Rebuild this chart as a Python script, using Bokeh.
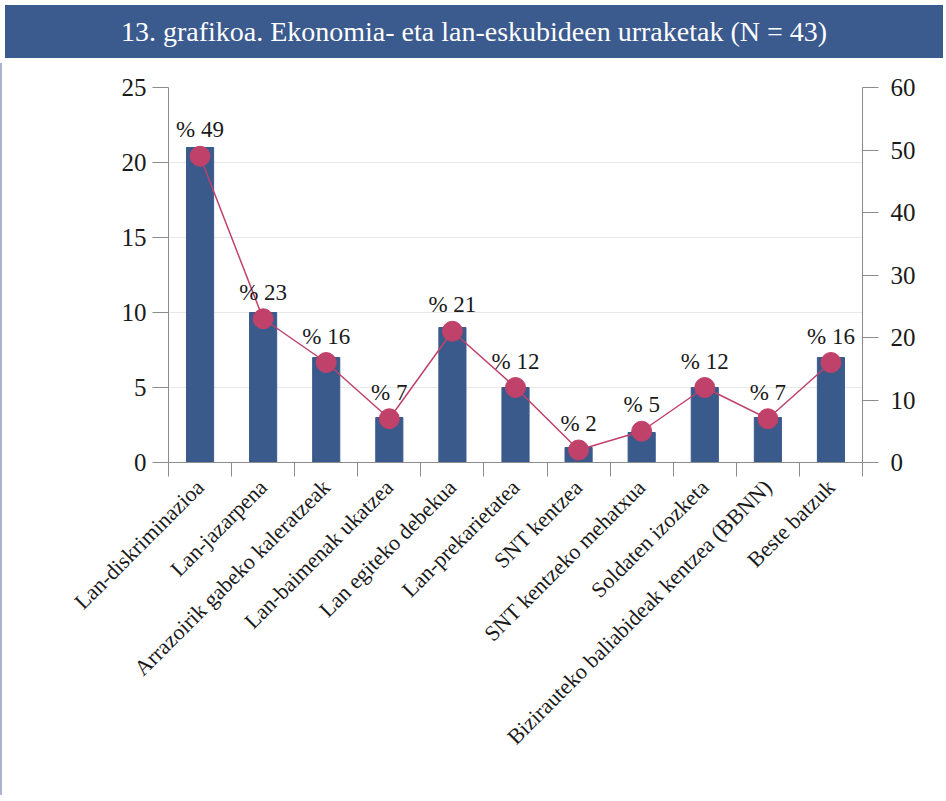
import math
from bokeh.plotting import figure
from bokeh.models import Range1d, LinearAxis, FixedTicker, Div, ColumnDataSource
from bokeh.layouts import column
from bokeh.core.properties import value
from bokeh.embed import file_html
from bokeh.resources import INLINE

title_text = "13. grafikoa. Ekonomia- eta lan-eskubideen urraketak (N = 43)"
categories = [
    "Lan-diskriminazioa",
    "Lan-jazarpena",
    "Arrazoirik gabeko kaleratzeak",
    "Lan-baimenak ukatzea",
    "Lan egiteko debekua",
    "Lan-prekarietatea",
    "SNT kentzea",
    "SNT kentzeko mehatxua",
    "Soldaten izozketa",
    "Bizirauteko baliabideak kentzea (BBNN)",
    "Beste batzuk",
]
counts = [21, 10, 7, 3, 9, 5, 1, 2, 5, 3, 7]
percents = [49, 23, 16, 7, 21, 12, 2, 5, 12, 7, 16]
left_ticks = [0, 5, 10, 15, 20, 25]
right_ticks = [0, 10, 20, 30, 40, 50, 60]

FONT = "Liberation Serif"
BAR = "#3a5a8c"
LINE = "#c0416a"
AXIS = "#8c8c8c"
TXT = "#1a1a1a"

n = len(categories)
xs = list(range(1, n + 1))
src = ColumnDataSource(dict(
    x=xs, count=counts, pct=percents,
    label=["% " + str(v) for v in percents],
))

p = figure(
    width=938, height=732,
    x_range=Range1d(0.5, n + 0.5), y_range=Range1d(left_ticks[0], left_ticks[-1]),
    output_backend="svg", toolbar_location=None,
    min_border_left=166, min_border_right=78, min_border_top=24, min_border_bottom=333,
)
p.outline_line_color = None
p.background_fill_color = "white"
p.border_fill_color = "white"
p.styles = {"border-left": "2px solid #a9b3d0"}

p.extra_y_ranges = {"pct": Range1d(right_ticks[0], right_ticks[-1])}

# bars, line, markers, labels
p.vbar(x="x", top="count", width=0.43, source=src, fill_color=BAR, line_color=BAR)
p.line(x="x", y="pct", source=src, y_range_name="pct", line_color=LINE, line_width=1.5)
p.scatter(x="x", y="pct", source=src, y_range_name="pct", size=20,
          fill_color=LINE, line_color=LINE)
p.text(x="x", y="pct", text="label", source=src, y_range_name="pct",
       text_align="center", text_baseline="bottom", y_offset=-14,
       text_font=value(FONT), text_font_size="23px", text_color=TXT)

# grid
p.xgrid.visible = False
p.ygrid.ticker = FixedTicker(ticks=left_ticks)
p.ygrid.grid_line_color = "#e8e8e8"
p.ygrid.grid_line_width = 1

# left axis
ya = p.yaxis[0]
ya.ticker = FixedTicker(ticks=left_ticks)
ya.axis_line_color = AXIS
ya.major_tick_line_color = AXIS
ya.major_tick_in = 0
ya.major_tick_out = 16
ya.minor_tick_line_color = None
ya.major_label_standoff = 6
ya.major_label_text_font = FONT
ya.major_label_text_font_size = "25px"
ya.major_label_text_color = TXT

# right axis
ra = LinearAxis(y_range_name="pct", ticker=FixedTicker(ticks=right_ticks))
ra.axis_line_color = AXIS
ra.major_tick_line_color = AXIS
ra.major_tick_in = 0
ra.major_tick_out = 16
ra.minor_tick_line_color = None
ra.major_label_standoff = 12
ra.major_label_text_font = FONT
ra.major_label_text_font_size = "25px"
ra.major_label_text_color = TXT
p.add_layout(ra, "right")

# x axis: labels at centres, tick marks at category boundaries
xa = p.xaxis[0]
xa.ticker = FixedTicker(ticks=xs, minor_ticks=[x - 0.5 for x in xs] + [n + 0.5])
xa.major_label_overrides = {x: c for x, c in zip(xs, categories)}
xa.major_tick_line_color = None
xa.minor_tick_line_color = AXIS
xa.minor_tick_in = 0
xa.minor_tick_out = 14
xa.axis_line_color = AXIS
xa.major_label_orientation = math.pi / 4
xa.major_label_standoff = 7
xa.major_label_text_font = FONT
xa.major_label_text_font_size = "22px"
xa.major_label_text_color = TXT

header = Div(
    text=title_text, width=938, height=53,
    styles={
        "background-color": "#3b5a8e", "color": "white",
        "font-family": FONT, "font-size": "28px",
        "text-align": "center", "line-height": "53px",
        "width": "938px", "height": "53px",
    },
)

layout = column(header, p, spacing=0)
open("out.html", "w").write(file_html(layout, INLINE))
